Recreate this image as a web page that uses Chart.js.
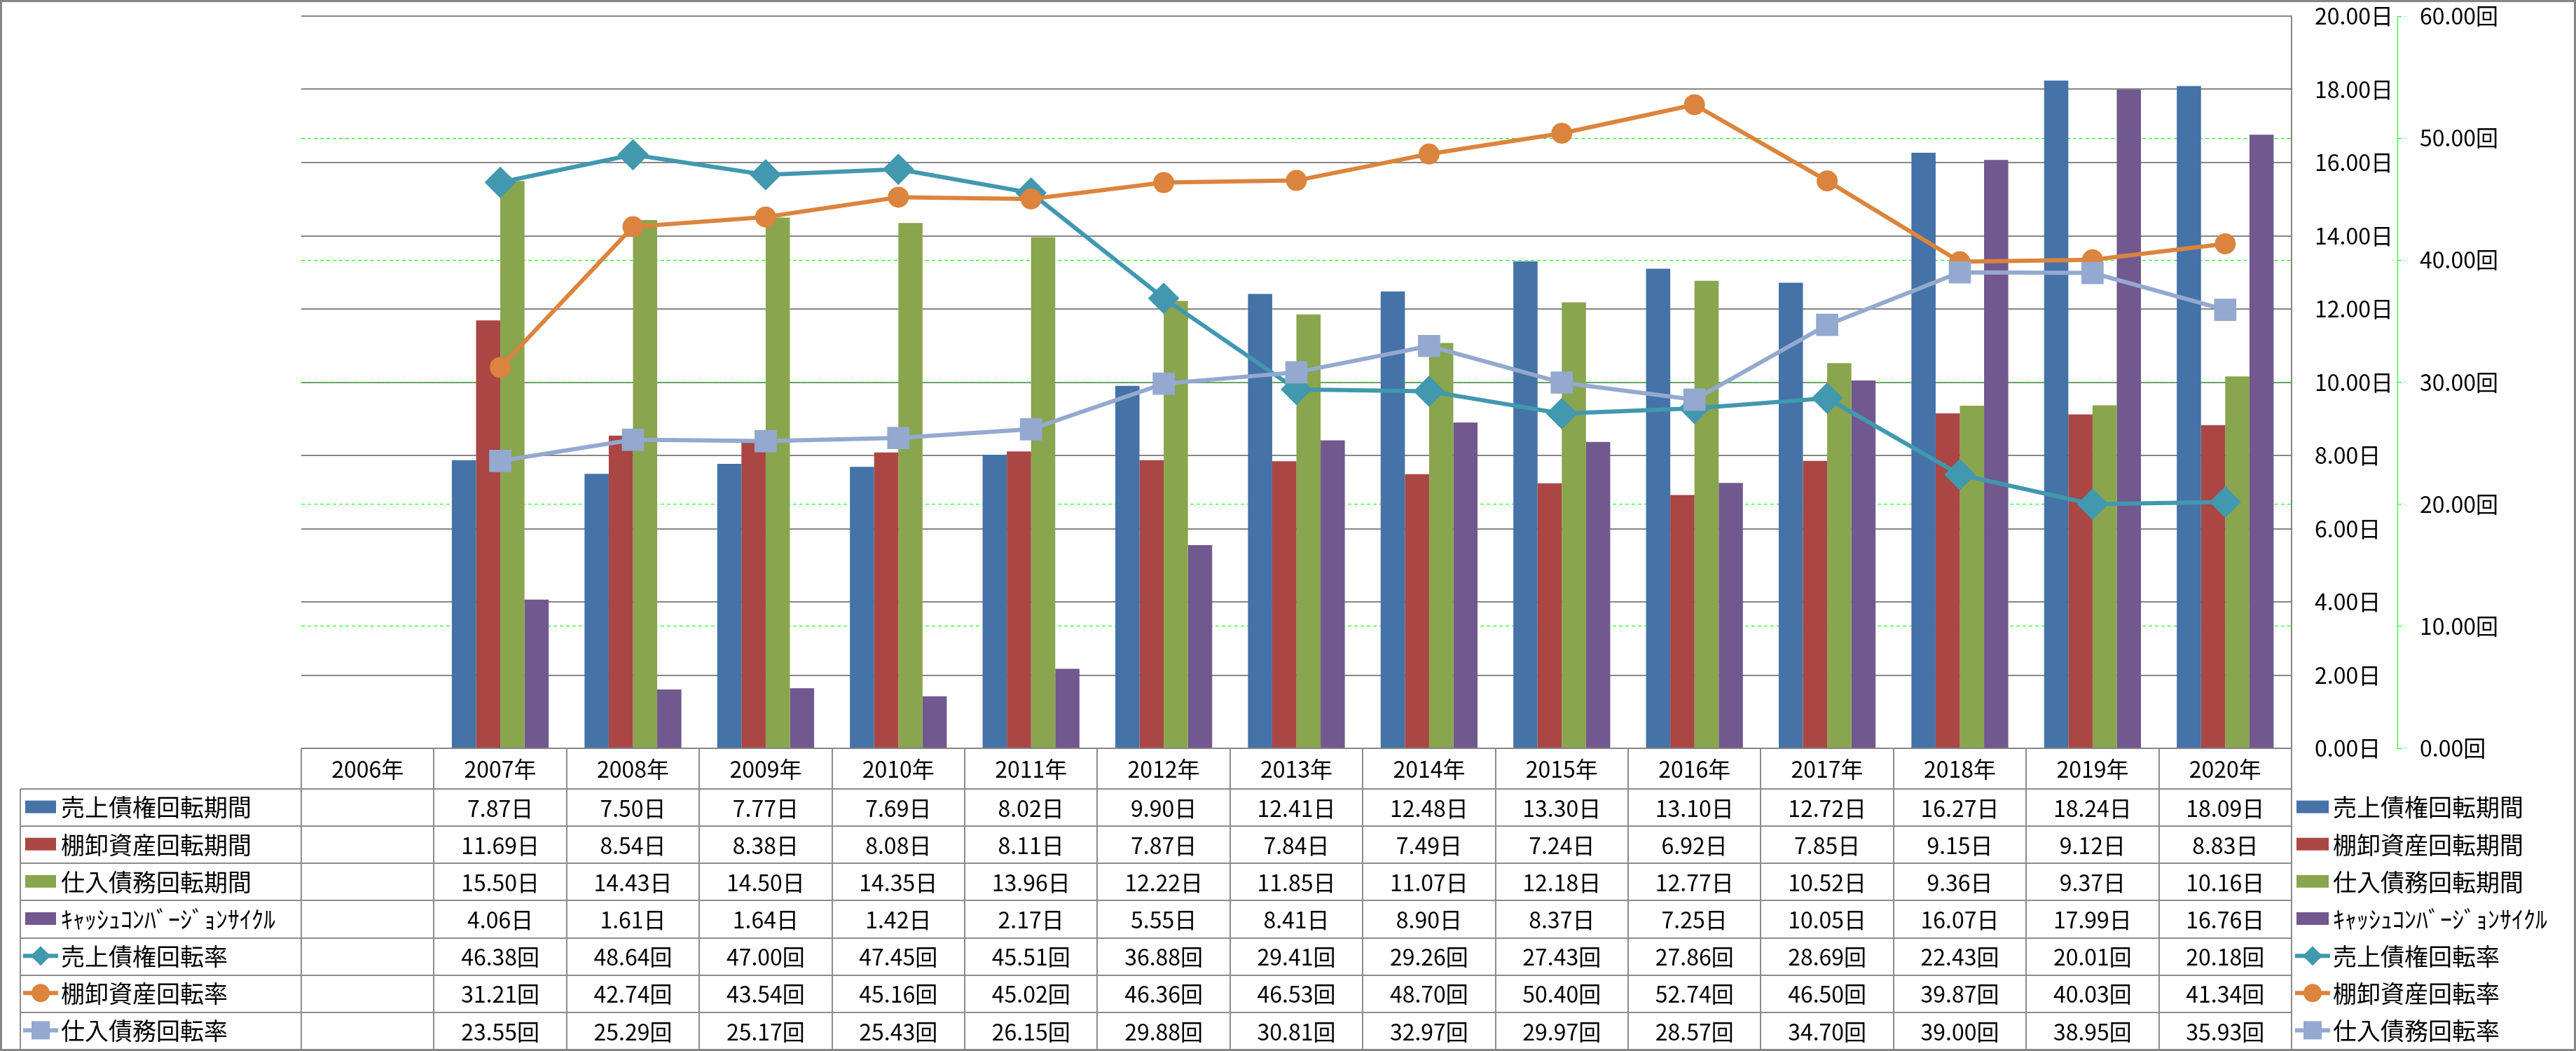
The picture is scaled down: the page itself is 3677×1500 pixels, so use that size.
<!DOCTYPE html>
<html>
<head>
<meta charset="utf-8">
<script src="https://cdn.jsdelivr.net/npm/chart.js@4.4.0/dist/chart.umd.min.js"></script>
<style>
  body { margin: 0; background: #fff; }
  canvas { display: block; }
</style>
</head>
<body>
<canvas id="chart" width="3677" height="1500"></canvas>
<script>
// Values
const years = ['2006年', '2007年', '2008年', '2009年', '2010年', '2011年', '2012年', '2013年',
    '2014年', '2015年', '2016年', '2017年', '2018年', '2019年', '2020年'];

const receivableDays = [null, 7.87, 7.50, 7.77, 7.69, 8.02, 9.90, 12.41, 12.48, 13.30, 13.10, 12.72, 16.27, 18.24, 18.09];
const inventoryDays = [null, 11.69, 8.54, 8.38, 8.08, 8.11, 7.87, 7.84, 7.49, 7.24, 6.92, 7.85, 9.15, 9.12, 8.83];
const payableDays = [null, 15.50, 14.43, 14.50, 14.35, 13.96, 12.22, 11.85, 11.07, 12.18, 12.77, 10.52, 9.36, 9.37, 10.16];
const cashCycleDays = [null, 4.06, 1.61, 1.64, 1.42, 2.17, 5.55, 8.41, 8.90, 8.37, 7.25, 10.05, 16.07, 17.99, 16.76];

const receivableTurnover = [null, 46.38, 48.64, 47.00, 47.45, 45.51, 36.88, 29.41, 29.26, 27.43, 27.86, 28.69, 22.43, 20.01, 20.18];
const inventoryTurnover = [null, 31.21, 42.74, 43.54, 45.16, 45.02, 46.36, 46.53, 48.70, 50.40, 52.74, 46.50, 39.87, 40.03, 41.34];
const payableTurnover = [null, 23.55, 25.29, 25.17, 25.43, 26.15, 29.88, 30.81, 32.97, 29.97, 28.57, 34.70, 39.00, 38.95, 35.93];

const dayTicks = [0, 2, 4, 6, 8, 10, 12, 14, 16, 18, 20];
const turnTicks = [0, 10, 20, 30, 40, 50, 60];

const FONT = '"Noto Sans CJK JP", "Noto Sans", sans-serif';
const GRID_GRAY = '#868686';
const GREEN = '#00ff00';

const series = [
    { label: '売上債権回転期間', data: receivableDays, color: '#4572a7', unit: '日', kind: 'bar' },
    { label: '棚卸資産回転期間', data: inventoryDays, color: '#aa4643', unit: '日', kind: 'bar' },
    { label: '仕入債務回転期間', data: payableDays, color: '#89a54e', unit: '日', kind: 'bar' },
    { label: 'ｷｬｯｼｭｺﾝﾊﾞｰｼﾞｮﾝｻｲｸﾙ', data: cashCycleDays, color: '#71588f', unit: '日', kind: 'bar' },
    { label: '売上債権回転率', data: receivableTurnover, color: '#4198af', unit: '回', kind: 'line', marker: 'rectRot', order: 3 },
    { label: '棚卸資産回転率', data: inventoryTurnover, color: '#db843d', unit: '回', kind: 'line', marker: 'circle', order: 2 },
    { label: '仕入債務回転率', data: payableTurnover, color: '#93a9cf', unit: '回', kind: 'line', marker: 'rect', order: 1 }
];

const markerRadius = { rectRot: 21, circle: 14, rect: 21 };

function legendIcon(ctx, s, cx, cy, barLeft, barWidth) {
    ctx.save();
    if (s.kind === 'bar') {
        ctx.fillStyle = s.color;
        ctx.fillRect(barLeft, cy - 9, barWidth, 18);
    } else {
        ctx.strokeStyle = s.color;
        ctx.fillStyle = s.color;
        ctx.lineWidth = 6;
        ctx.beginPath();
        ctx.moveTo(cx - 25, cy);
        ctx.lineTo(cx + 25, cy);
        ctx.stroke();
        ctx.beginPath();
        if (s.marker === 'rectRot') {
            ctx.moveTo(cx, cy - 14);
            ctx.lineTo(cx + 14, cy);
            ctx.lineTo(cx, cy + 14);
            ctx.lineTo(cx - 14, cy);
            ctx.closePath();
        } else if (s.marker === 'circle') {
            ctx.arc(cx, cy, 13, 0, Math.PI * 2);
        } else {
            ctx.rect(cx - 13, cy - 13, 26, 26);
        }
        ctx.fill();
    }
    ctx.restore();
}

const tablePlugin = {
    id: 'dataTable',
    afterDraw(chart) {
        const ctx = chart.ctx;
        const area = chart.chartArea;
        const xScale = chart.scales.x;
        const colW = (area.right - area.left) / years.length;
        const headTop = area.bottom;
        const headBottom = headTop + 58;
        const tableBottom = 1498;
        const rowH = (tableBottom - headBottom) / series.length;
        const labelLeft = 29;

        ctx.save();
        // grid of the table
        ctx.strokeStyle = '#8c8c8c';
        ctx.lineWidth = 2;
        ctx.beginPath();
        for (let k = 0; k < series.length; k++) {
            const y = Math.round(headBottom + k * rowH);
            ctx.moveTo(labelLeft, y);
            ctx.lineTo(area.right, y);
        }
        ctx.moveTo(labelLeft, headBottom);
        ctx.lineTo(labelLeft, tableBottom);
        for (let i = 0; i <= years.length; i++) {
            const x = Math.round(area.left + i * colW);
            ctx.moveTo(x, headTop);
            ctx.lineTo(x, tableBottom);
        }
        ctx.stroke();

        // header
        ctx.fillStyle = '#000';
        ctx.textAlign = 'center';
        ctx.textBaseline = 'middle';
        ctx.font = '32px ' + FONT;
        years.forEach((yr, i) => {
            ctx.fillText(yr, xScale.getPixelForTick(i), (headTop + headBottom) / 2 + 1);
        });

        // rows
        series.forEach((s, k) => {
            const cy = headBottom + (k + 0.5) * rowH;
            ctx.textAlign = 'center';
            ctx.font = '32px ' + FONT;
            ctx.fillStyle = '#000';
            s.data.forEach((v, i) => {
                if (v === null) return;
                ctx.fillText(v.toFixed(2) + s.unit, xScale.getPixelForTick(i), cy + 1);
            });
            // left label column
            legendIcon(ctx, s, 58, cy - 1, 36, 44);
            ctx.textAlign = 'left';
            ctx.font = '34px ' + FONT;
            ctx.fillStyle = '#000';
            ctx.fillText(s.label, 87, cy);
            // right legend
            legendIcon(ctx, s, 3301, cy - 1, 3278, 46);
            ctx.fillStyle = '#000';
            ctx.fillText(s.label, 3330, cy);
        });

        // outer frame
        ctx.strokeStyle = GRID_GRAY;
        ctx.lineWidth = 3;
        ctx.strokeRect(1.5, 1.5, chart.width - 3, chart.height - 3);
        ctx.restore();
    }
};

const datasets = series.map(s => {
    if (s.kind === 'bar') {
        return {
            type: 'bar',
            label: s.label,
            data: s.data,
            backgroundColor: s.color,
            borderWidth: 0,
            yAxisID: 'y',
            order: 10
        };
    }
    return {
        type: 'line',
        label: s.label,
        data: s.data,
        borderColor: s.color,
        backgroundColor: s.color,
        borderWidth: 6,
        tension: 0,
        pointStyle: s.marker,
        pointRadius: markerRadius[s.marker],
        pointBorderWidth: 2,
        pointBorderColor: s.color,
        pointBackgroundColor: s.color,
        yAxisID: 'y2',
        order: s.order
    };
});

// fixed widths for the two right-hand axes, no extra label padding above/below
function fitAxis(width) {
    return scale => {
        scale.width = width;
        scale.paddingTop = 0;
        scale.paddingBottom = 0;
    };
}

Chart.defaults.font.family = FONT;
Chart.defaults.color = '#000';

const canvas = document.getElementById('chart');

const chart = new Chart(canvas, {
    type: 'bar',
    data: { labels: years, datasets: datasets },
    options: {
        responsive: false,
        animation: false,
        devicePixelRatio: 1,
        layout: { padding: { left: 430, top: 23, right: 0, bottom: 432 } },
        datasets: { bar: { categoryPercentage: 0.73, barPercentage: 1 } },
        plugins: {
            legend: { display: false },
            tooltip: { enabled: false }
        },
        scales: {
            x: { display: false, offset: true },
            y: {
                position: 'right',
                min: dayTicks[0],
                max: dayTicks[dayTicks.length - 1],
                afterBuildTicks: scale => { scale.ticks = dayTicks.map(v => ({ value: v })); },
                ticks: {
                    padding: 33,
                    font: { size: 32 },
                    color: '#000',
                    callback: v => v.toFixed(2) + '日'
                },
                grid: { color: GRID_GRAY, lineWidth: 2, drawTicks: false },
                border: { color: GRID_GRAY, width: 2 },
                afterFit: fitAxis(151)
            },
            y2: {
                position: 'right',
                min: turnTicks[0],
                max: turnTicks[turnTicks.length - 1],
                afterBuildTicks: scale => { scale.ticks = turnTicks.map(v => ({ value: v })); },
                ticks: {
                    padding: 21,
                    font: { size: 32 },
                    color: '#000',
                    callback: v => v.toFixed(2) + '回'
                },
                grid: {
                    color: c => (c.tick && (c.tick.value === 0 || c.tick.value === 60)) ? 'rgba(0,0,0,0)' : GREEN,
                    lineWidth: 1,
                    tickLength: 11,
                    tickColor: GREEN,
                    tickWidth: 1,
                    tickBorderDash: [5, 4]
                },
                border: { color: GREEN, width: 1, dash: [5, 4] },
                afterFit: fitAxis(255)
            }
        }
    },
    plugins: [tablePlugin]
});
</script>
</body>
</html>
